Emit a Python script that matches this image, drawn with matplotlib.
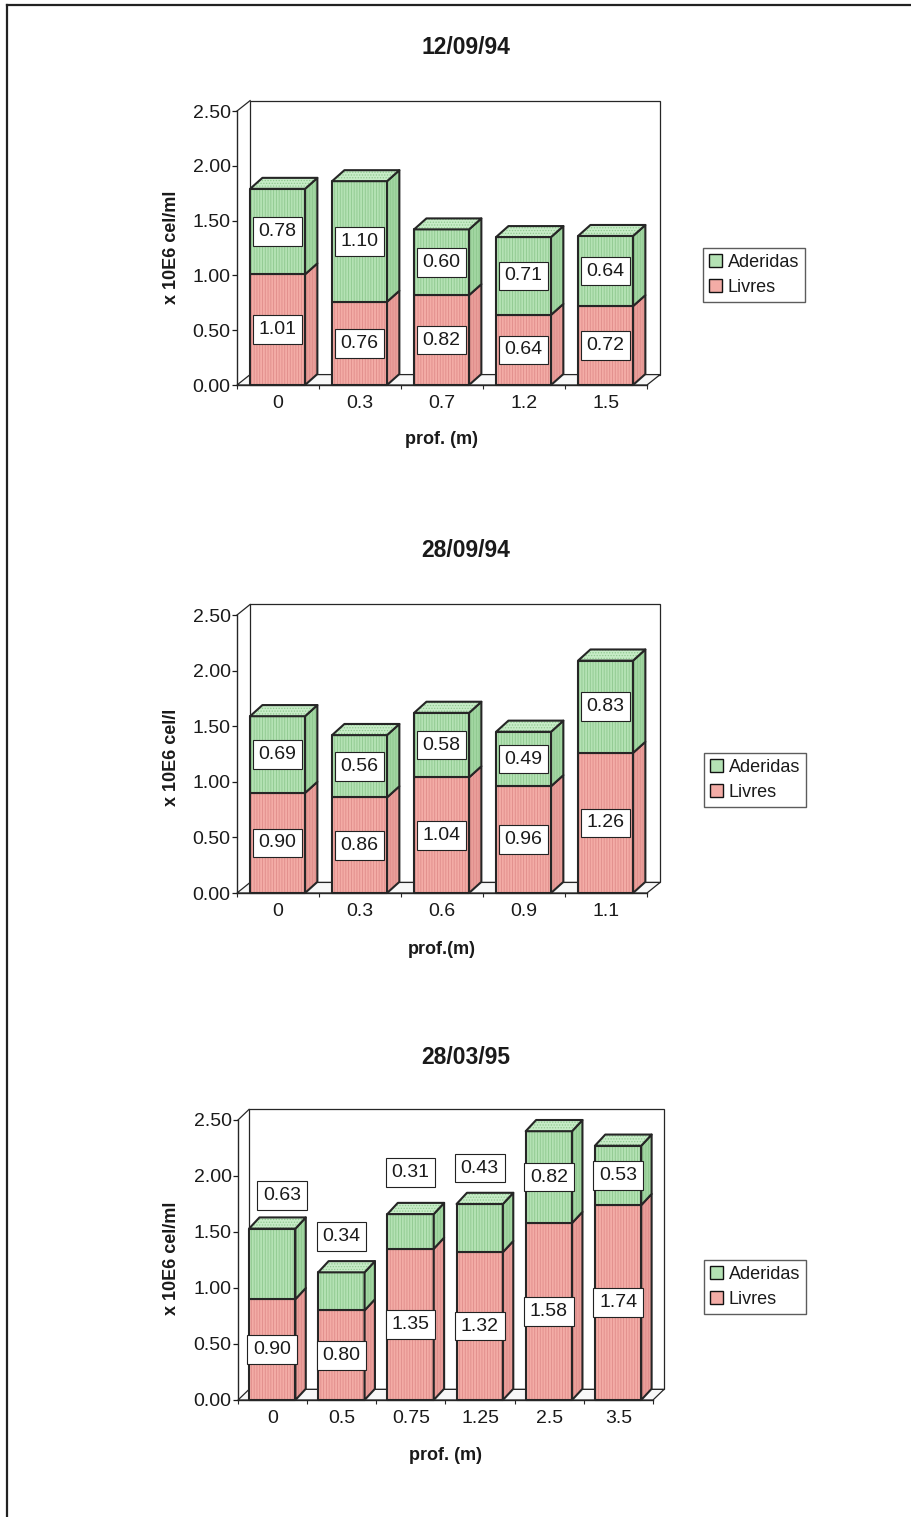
import matplotlib
matplotlib.use("Agg")
import matplotlib.pyplot as plt
from matplotlib.patches import Polygon, Patch
from matplotlib.lines import Line2D

plt.rcParams['font.family'] = ['Liberation Sans', 'DejaVu Sans']
plt.rcParams['hatch.linewidth'] = 0.6

# ---- data ---------------------------------------------------------------
titles = ['12/09/94', '28/09/94', '28/03/95']
ylabels = ['x 10E6 cel/ml', 'x 10E6 cel/l', 'x 10E6 cel/ml']
xlabels = ['prof. (m)', 'prof.(m)', 'prof. (m)']
series_names = ['Aderidas', 'Livres']

depth_1 = ['0', '0.3', '0.7', '1.2', '1.5']
livres_1 = [1.01, 0.76, 0.82, 0.64, 0.72]
aderidas_1 = [0.78, 1.10, 0.60, 0.71, 0.64]

depth_2 = ['0', '0.3', '0.6', '0.9', '1.1']
livres_2 = [0.90, 0.86, 1.04, 0.96, 1.26]
aderidas_2 = [0.69, 0.56, 0.58, 0.49, 0.83]

depth_3 = ['0', '0.5', '0.75', '1.25', '2.5', '3.5']
livres_3 = [0.90, 0.80, 1.35, 1.32, 1.58, 1.74]
aderidas_3 = [0.63, 0.34, 0.31, 0.43, 0.82, 0.53]

y_ticks = [0.0, 0.5, 1.0, 1.5, 2.0, 2.5]

# ---- layout (pixels) ----------------------------------------------------
W, H = 912, 1517
DPI = 100

def fx(px):
    return px / W

def fy(py):
    return 1 - py / H

# plot box: x of first/last category boundary, y of 0.00 and 2.50
panels = [
    dict(x0=237, x1=647, y0=385, y1=111, title_y=47, xlabel=(442, 440),
         ylabel=(172, 247), legend=(754, 275)),
    dict(x0=237, x1=647, y0=893, y1=615, title_y=551, xlabel=(442, 950),
         ylabel=(172, 757), legend=(755, 780)),
    dict(x0=238, x1=653, y0=1400, y1=1120, title_y=1058, xlabel=(446, 1455),
         ylabel=(172, 1258), legend=(755, 1287)),
]
# label nudges (bin units, value units) for the upper segment labels
upper_nudge = [
    [(0, 0)] * 5,
    [(0, 0)] * 5,
    [(0.14, 0.61), (0, 0.49), (0, 0.525), (0, 0.535), (0, 0), (0, 0)],
]

PINK = '#f3aca6'
PINK_SIDE = '#e99f9a'
PINK_HATCH = '#e08c8a'
GREEN = '#b4e2b4'
GREEN_SIDE = '#a2d6a2'
GREEN_TOP = '#c8ecc8'
GREEN_HATCH = '#8ec88e'
EDGE = '#262626'
TXT = '#1a1a1a'

BAR_OFF = 0.16    # gap from bin start to bar front face
BAR_W = 0.67      # bar front-face width (bins)
DX = 0.15         # depth shift in bins
DY = 0.10         # depth shift in value units
WALL_DX = 0.16
WALL_DY = 0.095
YMAX = 2.5


def face(ax, pts, fc, hc, hatch, z=3):
    ax.add_patch(Polygon(pts, closed=True, facecolor=fc, edgecolor='none',
                         zorder=z, clip_on=False))
    if hatch:
        ax.add_patch(Polygon(pts, closed=True, fill=False, edgecolor=hc,
                             lw=0, hatch=hatch, zorder=z, clip_on=False))
    ax.add_patch(Polygon(pts, closed=True, fill=False, edgecolor=EDGE,
                         lw=1.5, zorder=z, clip_on=False, joinstyle='round'))


def segment(ax, xl, y0, y1, front, side, hcol, top=None):
    xr = xl + BAR_W
    face(ax, [(xl, y0), (xr, y0), (xr, y1), (xl, y1)], front, hcol, '||||||')
    face(ax, [(xr, y0), (xr + DX, y0 + DY), (xr + DX, y1 + DY), (xr, y1)],
         side, hcol, '||||||')
    if top is not None:
        face(ax, [(xl, y1), (xl + DX, y1 + DY), (xr + DX, y1 + DY), (xr, y1)],
             top, hcol, '......')


fig = plt.figure(figsize=(W / DPI, H / DPI), dpi=DPI)
fig.patch.set_facecolor('white')

data = [
    (depth_1, livres_1, aderidas_1),
    (depth_2, livres_2, aderidas_2),
    (depth_3, livres_3, aderidas_3),
]

for p, (cats, livres, aderidas), title, ylab, xlab, nudges in zip(
        panels, data, titles, ylabels, xlabels, upper_nudge):
    n = len(cats)
    ax = fig.add_axes([fx(p['x0']), fy(p['y0']),
                       (p['x1'] - p['x0']) / W, (p['y0'] - p['y1']) / H])
    ax.set_xlim(0, n)
    ax.set_ylim(0, YMAX)
    ax.patch.set_visible(False)
    for s in ('top', 'right'):
        ax.spines[s].set_visible(False)
    for s in ('left', 'bottom'):
        ax.spines[s].set_color(EDGE)
        ax.spines[s].set_linewidth(1.0)

    # back wall, floor and the depth edges of the frame
    ax.add_patch(Polygon([(WALL_DX, WALL_DY), (n + WALL_DX, WALL_DY),
                          (n + WALL_DX, YMAX + WALL_DY), (WALL_DX, YMAX + WALL_DY)],
                         closed=True, facecolor='white', edgecolor=EDGE, lw=0.9,
                         zorder=1, clip_on=False))
    ax.add_patch(Polygon([(0, 0), (n, 0), (n + WALL_DX, WALL_DY), (WALL_DX, WALL_DY)],
                         closed=True, facecolor='#f8f8f8', edgecolor=EDGE, lw=0.9,
                         zorder=1.5, clip_on=False))
    ax.plot([0, WALL_DX], [YMAX, YMAX + WALL_DY], color=EDGE, lw=0.9,
            clip_on=False, zorder=1.5)

    # stacked bars
    for i, (lv, ad) in enumerate(zip(livres, aderidas)):
        xl = i + BAR_OFF
        segment(ax, xl, 0, lv, PINK, PINK_SIDE, PINK_HATCH)
        segment(ax, xl, lv, lv + ad, GREEN, GREEN_SIDE, GREEN_HATCH, top=GREEN_TOP)

        xc = xl + BAR_W / 2
        box = dict(boxstyle='square,pad=0.3', fc='white', ec='#222', lw=0.8)
        ax.text(xc, lv / 2, f'{lv:.2f}', ha='center', va='center',
                fontsize=14, color=TXT, bbox=box, zorder=6)
        ndx, ndy = nudges[i]
        ax.text(xc + ndx, lv + ad / 2 + ndy, f'{ad:.2f}', ha='center',
                va='center', fontsize=14, color=TXT, bbox=box, zorder=6)

    # ticks
    ax.set_yticks(y_ticks)
    ax.set_yticklabels([f'{v:.2f}' for v in y_ticks])
    ax.tick_params(axis='y', direction='out', length=3.6, width=0.9,
                   pad=1.0, labelsize=14, colors=TXT)
    ax.set_xticks(range(n + 1))
    ax.set_xticklabels([])
    ax.tick_params(axis='x', which='major', direction='out', length=3,
                   width=0.8, colors=EDGE)
    ax.set_xticks([i + 0.5 for i in range(n)], minor=True)
    ax.set_xticklabels(cats, minor=True)
    ax.tick_params(axis='x', which='minor', length=0, pad=7, labelsize=14,
                   labelcolor=TXT)

    # titles and axis labels
    fig.text(fx(466), fy(p['title_y']), title, ha='center', va='center',
             fontsize=16.5, fontweight='bold', color=TXT)
    fig.text(fx(p['xlabel'][0]), fy(p['xlabel'][1]), xlab, ha='center',
             va='center', fontsize=13, fontweight='bold', color=TXT)
    fig.text(fx(p['ylabel'][0]), fy(p['ylabel'][1]), ylab, ha='center',
             va='center', rotation=90, fontsize=13, fontweight='bold', color=TXT)

    handles = [Patch(facecolor=GREEN, edgecolor='#111', lw=1.0),
               Patch(facecolor=PINK, edgecolor='#111', lw=1.0)]
    leg = fig.legend(handles, series_names, loc='center',
                     bbox_to_anchor=(fx(p['legend'][0]), fy(p['legend'][1])),
                     frameon=True, fancybox=False, fontsize=13,
                     handlelength=0.75, handleheight=0.75, handletextpad=0.3,
                     borderpad=0.35, labelspacing=0.45, borderaxespad=0)
    leg.get_frame().set_edgecolor('#333')
    leg.get_frame().set_linewidth(1.0)
    for t in leg.get_texts():
        t.set_color(TXT)

# page frame
fig.add_artist(Line2D([fx(7), 1.0], [fy(5), fy(5)], color='#222', lw=1.6))
fig.add_artist(Line2D([fx(7), fx(7)], [fy(5), 0.0], color='#222', lw=1.6))

fig.savefig('out.png', dpi=DPI, facecolor='white')
